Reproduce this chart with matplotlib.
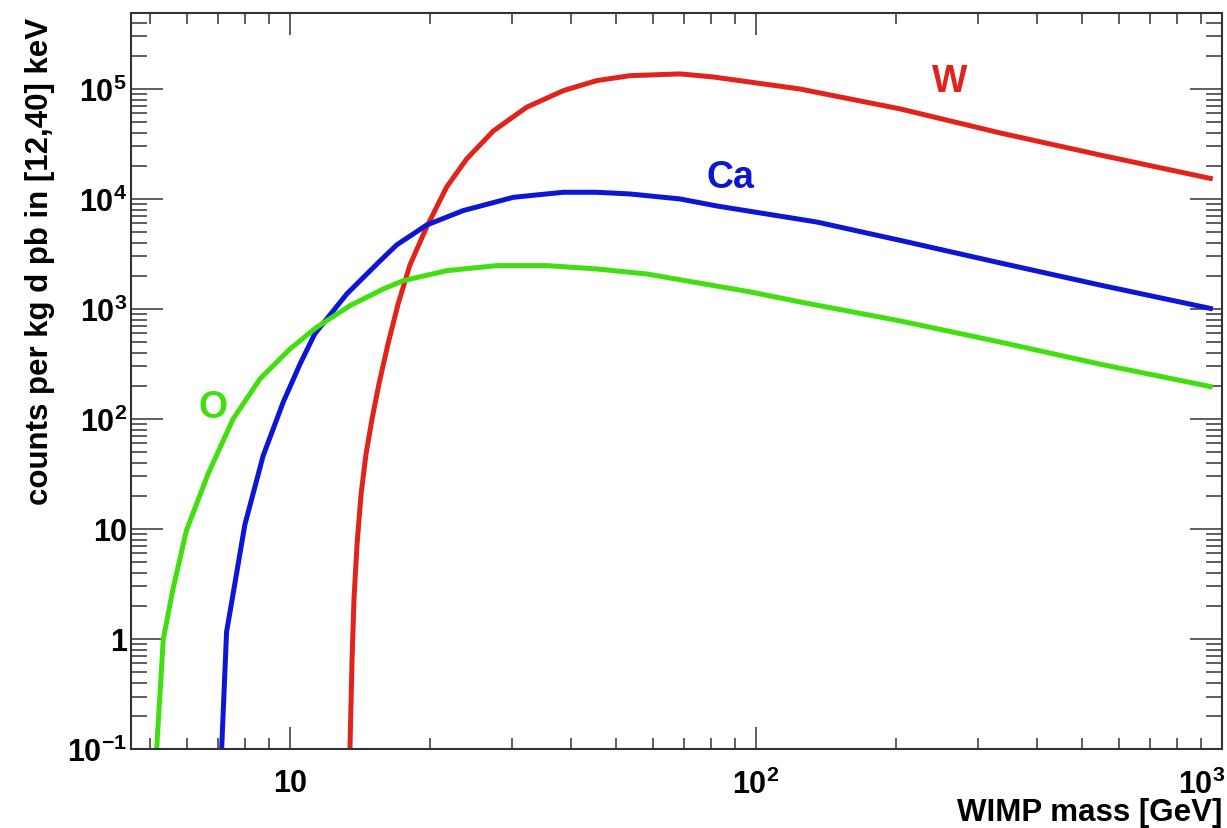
import matplotlib
matplotlib.use("Agg")
import matplotlib.pyplot as plt
import matplotlib.transforms as mtransforms
from matplotlib.ticker import FixedLocator, FixedFormatter, LogLocator, NullFormatter

# WIMP mass [GeV] and expected counts
mass_w = [13.45, 13.59, 13.72, 13.93, 14.21, 14.56, 15.0, 15.52, 16.23, 17.06,
          18.09, 19.65, 21.69, 23.94, 27.31, 32.2, 38.6, 45.5, 53.65, 68.7,
          80.9, 124, 204, 334, 547, 955]
rate_w = [0.1, 0.658, 2.31, 7.31, 20.8, 48.1, 100, 208, 481, 1110,
          2512, 5565, 12850, 23100, 41500, 68200, 96500, 119000, 132000, 137000,
          128500, 100000, 65800, 39800, 25100, 15200]

mass_ca = [7.135, 7.31, 7.55, 8.0, 8.76, 9.67, 10.51, 11.3, 13.24, 15.6, 16.94,
           19.65, 23.54, 30.15, 38.59, 45.5, 53.65, 68.7, 82.4, 135, 204, 334,
           547, 955]
rate_ca = [0.1, 1.16, 2.57, 10.9, 46.4, 142, 316, 593, 1369, 2730, 3820,
           5800, 7840, 10350, 11500, 11500, 11100, 10000, 8630, 6170, 4200, 2620,
           1650, 1000]

mass_o = [5.175, 5.348, 5.61, 5.995, 6.67, 7.55, 8.62, 10.0, 11.41, 13.45, 15.86,
          17.5, 21.69, 27.77, 35.55, 45.52, 58.29, 97.1, 124, 204, 334, 547, 955]
rate_o = [0.1, 1.0, 2.85, 9.68, 31.6, 100, 231, 433, 682, 1072, 1520,
          1807, 2228, 2477, 2477, 2310, 2080, 1430, 1160, 778, 500, 315, 195]

x_ticks = [10, 100, 1000]
x_tick_labels = ["10", "$10^{2}$", "$10^{3}$"]
y_ticks = [0.1, 1, 10, 100, 1e3, 1e4, 1e5]
y_tick_labels = ["$10^{-1}$", "1", "10", "$10^{2}$", "$10^{3}$", "$10^{4}$", "$10^{5}$"]

RED = "#e2231c"
BLUE = "#0c16d4"
GREEN = "#3fdf10"


def main():
    plt.rcParams['font.family'] = ['Liberation Sans', 'DejaVu Sans']
    plt.rcParams['font.weight'] = 'bold'
    plt.rcParams['mathtext.fontset'] = 'custom'
    plt.rcParams['mathtext.rm'] = 'Liberation Sans:bold'
    plt.rcParams['mathtext.bf'] = 'Liberation Sans:bold'
    plt.rcParams['mathtext.default'] = 'bf'

    fig = plt.figure(figsize=(12.27, 8.29), dpi=100)
    ax = fig.add_axes([0.1068, 0.0953, 0.8892, 0.8878])

    ax.plot(mass_w, rate_w, color=RED, lw=3.6, solid_capstyle='butt', solid_joinstyle='round')
    ax.plot(mass_ca, rate_ca, color=BLUE, lw=3.6, solid_capstyle='butt', solid_joinstyle='round')
    ax.plot(mass_o, rate_o, color=GREEN, lw=3.6, solid_capstyle='butt', solid_joinstyle='round')

    ax.set_xscale('log')
    ax.set_yscale('log')
    ax.set_xlim(4.56, 1000)
    ax.set_ylim(0.1, 4.9e5)

    ax.xaxis.set_major_locator(FixedLocator(x_ticks))
    ax.xaxis.set_major_formatter(FixedFormatter(x_tick_labels))
    ax.xaxis.set_minor_locator(LogLocator(base=10, subs=range(2, 10)))
    ax.xaxis.set_minor_formatter(NullFormatter())
    ax.yaxis.set_major_locator(FixedLocator(y_ticks))
    ax.yaxis.set_major_formatter(FixedFormatter(y_tick_labels))
    ax.yaxis.set_minor_locator(LogLocator(base=10, subs=range(2, 10), numticks=20))
    ax.yaxis.set_minor_formatter(NullFormatter())

    tick_col = "#333333"
    ax.tick_params(axis='both', which='both', direction='in', top=True, right=True,
                   color=tick_col, width=1.1)
    ax.tick_params(axis='x', which='major', length=16, pad=14, labelsize=22)
    ax.tick_params(axis='x', which='minor', length=8)
    ax.tick_params(axis='y', which='major', length=23, pad=3, labelsize=22)
    ax.tick_params(axis='y', which='minor', length=11.5)
    for s in ax.spines.values():
        s.set_linewidth(1.5)
        s.set_color(tick_col)

    # the last x label sits left of its tick so it stays inside the figure
    shift = mtransforms.ScaledTranslation(-0.20, 0, fig.dpi_scale_trans)
    last = ax.xaxis.get_major_ticks()[2].label1
    last.set_transform(last.get_transform() + shift)

    ax.set_xlabel("WIMP mass [GeV]", loc='right', fontsize=22.5, fontweight='bold')
    ax.xaxis.label.set_verticalalignment('baseline')
    ax.xaxis.set_label_coords(1.0, -0.0965)
    ax.set_ylabel("counts per kg d pb in [12,40] keV", loc='top', fontsize=22.5,
                  fontweight='bold')
    ax.yaxis.set_label_coords(-0.070, 0.995)

    ax.text(0.7507, 0.9076, "W", color=RED, fontsize=27, fontweight='bold',
            ha='center', va='center', transform=ax.transAxes)
    ax.text(0.5490, 0.7772, "Ca", color=BLUE, fontsize=27, fontweight='bold',
            ha='center', va='center', transform=ax.transAxes)
    ax.text(0.0752, 0.4647, "O", color=GREEN, fontsize=27, fontweight='bold',
            ha='center', va='center', transform=ax.transAxes)

    fig.savefig("out.png", dpi=100)


if __name__ == '__main__':
    main()
